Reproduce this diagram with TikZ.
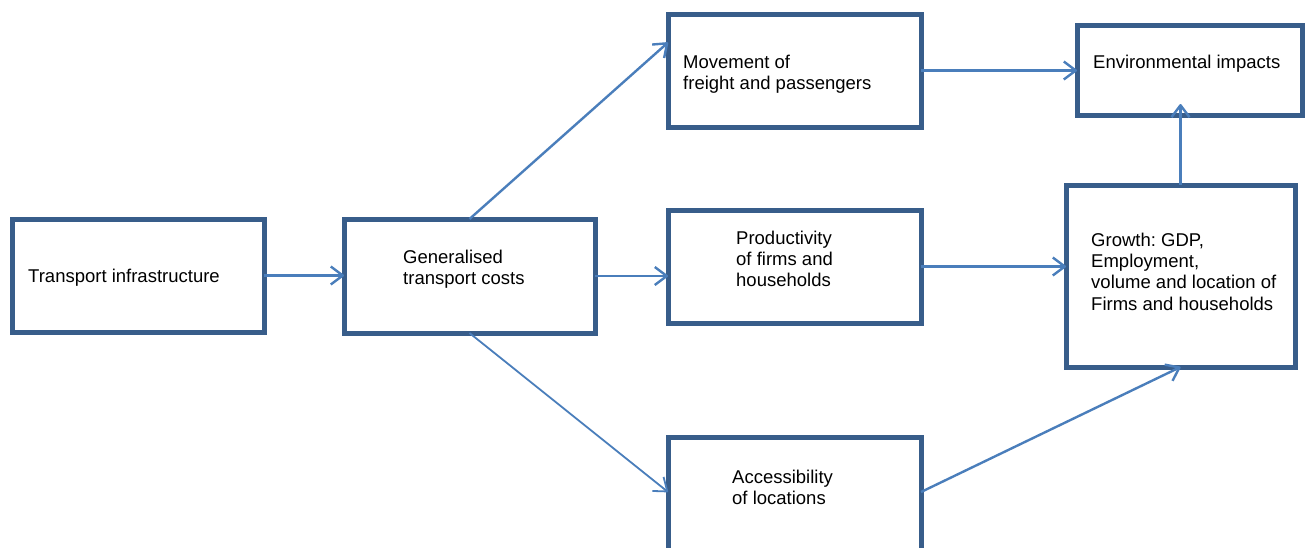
\documentclass[tikz,border=0pt]{standalone}
\usepackage{fontspec}
\setmainfont{Liberation Sans}
\usetikzlibrary{arrows.meta}
\definecolor{boxblue}{RGB}{56,93,138}
\definecolor{linkblue}{RGB}{74,126,187}
\frenchspacing
\begin{document}
\begin{tikzpicture}[x=1pt,y=-1pt,
  box/.style={draw=boxblue, line width=5pt, fill=white, inner sep=0pt, outer sep=0pt},
  % base anchor sits on the baseline of the last line
  label/.style={anchor=base west, inner sep=0pt, align=left,
    font=\fontsize{18.5}{21.4}\selectfont},
  link/.style={draw=linkblue, line width=2.4pt,
    -{Straight Barb[length=12pt,width=18pt,line join=round]}}]
\useasboundingbox (0,0) rectangle (1306,547);
\clip (0,0) rectangle (1306,547);

% boxes
\node[box, minimum width=252pt, minimum height=113pt] (infra) at (138,275.5) {};
\node[box, minimum width=251pt, minimum height=114pt] (gen)   at (469.5,276) {};
\node[box, minimum width=253pt, minimum height=113pt] (move)  at (794.5,70.5) {};
\node[box, minimum width=253pt, minimum height=113pt] (prod)  at (794.5,266.5) {};
\node[box, minimum width=253pt, minimum height=115pt] (acc)   at (794.5,494.5) {};
\node[box, minimum width=225pt, minimum height=90pt]  (env)   at (1189.5,70) {};
\node[box, minimum width=229pt, minimum height=182pt] (grow)  at (1180.5,276) {};

% texts
\node[label] (infraT) at (28,282)     {Transport infrastructure};
\node[label] (genT)   at (403,284.4)  {Generalised\\transport costs};
\node[label] (moveT)  at (683,89.4)   {Movement of\\freight and passengers};
\node[label] (prodT)  at (736,286.8)  {Productivity\\of firms and\\households};
\node[label] (accT)   at (732,504.4)  {Accessibility\\of locations};
\node[label] (envT)   at (1093,68)    {Environmental impacts};
\node[label] (growT)  at (1091,310.2) {Growth: GDP,\\Employment,\\volume and location of\\Firms and households};

% connectors
\coordinate (envtip) at (1180.5,104);
\draw[link] (infra.east) -- (infra.east -| gen.west);
\draw[link] (gen.east) -- (gen.east -| prod.west);
\draw[link] (gen.north) -- ([yshift=28pt]move.west);
\draw[link, line width=1.8pt] (gen.south) -- ([yshift=2.5pt]acc.west);
\draw[link] (move.east) -- (move.east -| env.west);
\draw[link] (prod.east) -- (prod.east -| grow.west);
\draw[link] ([yshift=2.5pt]acc.east) -- (grow.south);
\draw[link] (grow.north) -- (envtip);
\end{tikzpicture}
\end{document}
